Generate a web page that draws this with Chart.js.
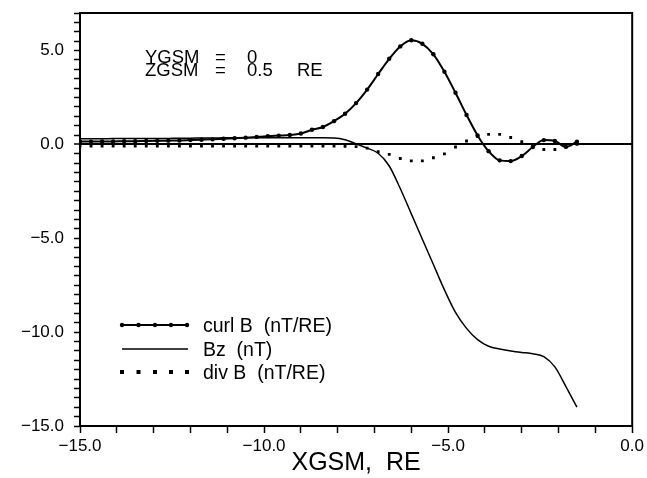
<!DOCTYPE html>
<html>
<head>
<meta charset="utf-8">
<script src="https://cdn.jsdelivr.net/npm/chart.js@4.4.1/dist/chart.umd.min.js"></script>
<style>
  html, body { margin: 0; padding: 0; background: #fff; }
  canvas { display: block; }
</style>
</head>
<body>
<canvas id="fieldChart" width="647" height="478"></canvas>
<script>
// sample positions along XGSM (RE)
const xGsm = [-15.0, -14.7, -14.4, -14.1, -13.8, -13.5, -13.2, -12.9, -12.6, -12.3,
    -12.0, -11.7, -11.4, -11.1, -10.8, -10.5, -10.2, -9.9, -9.6, -9.3,
    -9.0, -8.7, -8.4, -8.1, -7.8, -7.5, -7.2, -6.9, -6.6, -6.3,
    -6.0, -5.7, -5.4, -5.1, -4.8, -4.5, -4.2, -3.9, -3.6, -3.3,
    -3.0, -2.7, -2.4, -2.1, -1.8, -1.5];

// curl B (nT/RE)
const curlB = [0.15, 0.15, 0.16, 0.16, 0.17, 0.17, 0.18, 0.19, 0.20, 0.21,
    0.23, 0.25, 0.27, 0.30, 0.33, 0.36, 0.40, 0.44, 0.47, 0.50,
    0.58, 0.78, 0.93, 1.24, 1.63, 2.20, 2.92, 3.75, 4.56, 5.22,
    5.55, 5.36, 4.80, 3.87, 2.75, 1.57, 0.48, -0.36, -0.85, -0.89,
    -0.62, -0.14, 0.23, 0.18, -0.13, 0.14];

// Bz (nT)
const bz = [0.30, 0.30, 0.30, 0.31, 0.31, 0.31, 0.32, 0.32, 0.32, 0.33,
    0.33, 0.34, 0.34, 0.35, 0.35, 0.35, 0.35, 0.35, 0.35, 0.35,
    0.35, 0.35, 0.35, 0.34, 0.25, 0.03, -0.20, -0.47, -1.15, -2.35,
    -3.70, -5.05, -6.40, -7.75, -8.95, -9.80, -10.40, -10.75, -10.90, -11.00,
    -11.08, -11.15, -11.30, -11.85, -12.90, -14.00];

// div B (nT/RE)
const divB = [-0.09, -0.09, -0.09, -0.09, -0.09, -0.09, -0.09, -0.09, -0.09, -0.09,
    -0.09, -0.09, -0.09, -0.09, -0.09, -0.09, -0.09, -0.09, -0.09, -0.09,
    -0.09, -0.09, -0.09, -0.09, -0.10, -0.12, -0.20, -0.39, -0.53, -0.75,
    -0.88, -0.88, -0.71, -0.50, -0.14, 0.18, 0.42, 0.53, 0.53, 0.37,
    0.14, -0.14, -0.27, -0.27, -0.13, 0.00];

const seriesLabels = ['curl B  (nT/RE)', 'Bz  (nT)', 'div B  (nT/RE)'];
const noteLines = [['YGSM', '=', '0'], ['ZGSM', '=', '0.5', 'RE']];

const FONT = "'Liberation Sans', Arial, Helvetica, sans-serif";

function toPoints(ys) {
    return xGsm.map((x, i) => ({x: x, y: ys[i]}));
}

function fmt(v) {
    if (v % 5 !== 0) return '';
    return (v < 0 ? '\u2212' : '') + Math.abs(v).toFixed(1);
}

const framePlugin = {
    id: 'frame',
    afterDraw(chart) {
        const ctx = chart.ctx;
        const a = chart.chartArea;
        ctx.save();
        ctx.strokeStyle = '#000';
        ctx.lineWidth = 2;
        ctx.strokeRect(a.left, a.top, a.right - a.left, a.bottom - a.top);

        // position notes
        ctx.fillStyle = '#000';
        ctx.font = '18.5px ' + FONT;
        ctx.textBaseline = 'alphabetic';
        const cols = [145, 215, 247, 297];
        noteLines.forEach((line, r) => {
            line.forEach((w, c) => ctx.fillText(w, cols[c], 62.5 + r * 13));
        });

        // legend
        const rows = [325, 349, 372];
        ctx.font = '19.5px ' + FONT;
        chart.data.datasets.forEach((ds, i) => {
            const y = rows[i];
            if (ds.showLine !== false) {
                ctx.beginPath();
                ctx.lineWidth = ds.borderWidth;
                ctx.moveTo(122, y);
                ctx.lineTo(188, y);
                ctx.stroke();
            }
            if (ds.pointRadius > 0) {
                [122, 138.5, 155, 171, 187].forEach(px => {
                    ctx.beginPath();
                    if (ds.pointStyle === 'rect') {
                        ctx.fillRect(px - 2, y - 2, 4, 4);
                    } else {
                        ctx.arc(px, y, 2.2, 0, Math.PI * 2);
                        ctx.fill();
                    }
                });
            }
            ctx.fillText(seriesLabels[i], 203, y + 7);
        });
        ctx.restore();
    }
};

new Chart(document.getElementById('fieldChart'), {
    type: 'line',
    data: {
        datasets: [
            {
                label: seriesLabels[0],
                data: toPoints(curlB),
                borderColor: '#000',
                backgroundColor: '#000',
                borderWidth: 2,
                pointRadius: 2.2,
                pointStyle: 'circle',
                pointBorderWidth: 0,
                cubicInterpolationMode: 'monotone',
                order: 0
            },
            {
                label: seriesLabels[1],
                data: toPoints(bz),
                borderColor: '#000',
                backgroundColor: '#000',
                borderWidth: 1.5,
                pointRadius: 0,
                cubicInterpolationMode: 'monotone',
                order: 1
            },
            {
                label: seriesLabels[2],
                data: toPoints(divB),
                borderColor: '#000',
                backgroundColor: '#000',
                showLine: false,
                pointRadius: 2,
                pointStyle: 'rect',
                pointBorderWidth: 0,
                order: 2
            }
        ]
    },
    options: {
        responsive: false,
        animation: false,
        devicePixelRatio: 1,
        layout: { padding: { top: 13, right: 11, left: 0, bottom: 0 } },
        plugins: {
            legend: { display: false },
            tooltip: { enabled: false }
        },
        scales: {
            x: {
                type: 'linear',
                min: -15,
                max: 0,
                afterFit: s => { s.height = 52; },
                ticks: {
                    stepSize: 1,
                    autoSkip: false,
                    maxRotation: 0,
                    padding: 3,
                    color: '#000',
                    font: { family: FONT, size: 17 },
                    callback: fmt
                },
                grid: {
                    drawOnChartArea: false,
                    tickLength: 7,
                    tickColor: '#000',
                    tickWidth: 1.5
                },
                border: { color: '#000', width: 2 },
                title: {
                    display: true,
                    text: 'XGSM,  RE',
                    color: '#000',
                    font: { family: FONT, size: 25 },
                    padding: { top: 0, bottom: 0 }
                }
            },
            y: {
                min: -15,
                max: 7,
                afterFit: s => { s.width = 80; s.paddingTop = 0; },
                ticks: {
                    stepSize: 0.5,
                    autoSkip: false,
                    padding: 10,
                    color: '#000',
                    font: { family: FONT, size: 17 },
                    callback: fmt
                },
                grid: {
                    color: c => (c.tick && c.tick.value === 0) ? '#000' : 'rgba(0,0,0,0)',
                    lineWidth: c => (c.tick && c.tick.value === 0) ? 2 : 1,
                    tickLength: 6,
                    tickColor: '#000',
                    tickWidth: 1.5
                },
                border: { color: '#000', width: 2 }
            }
        }
    },
    plugins: [framePlugin]
});
</script>
</body>
</html>
